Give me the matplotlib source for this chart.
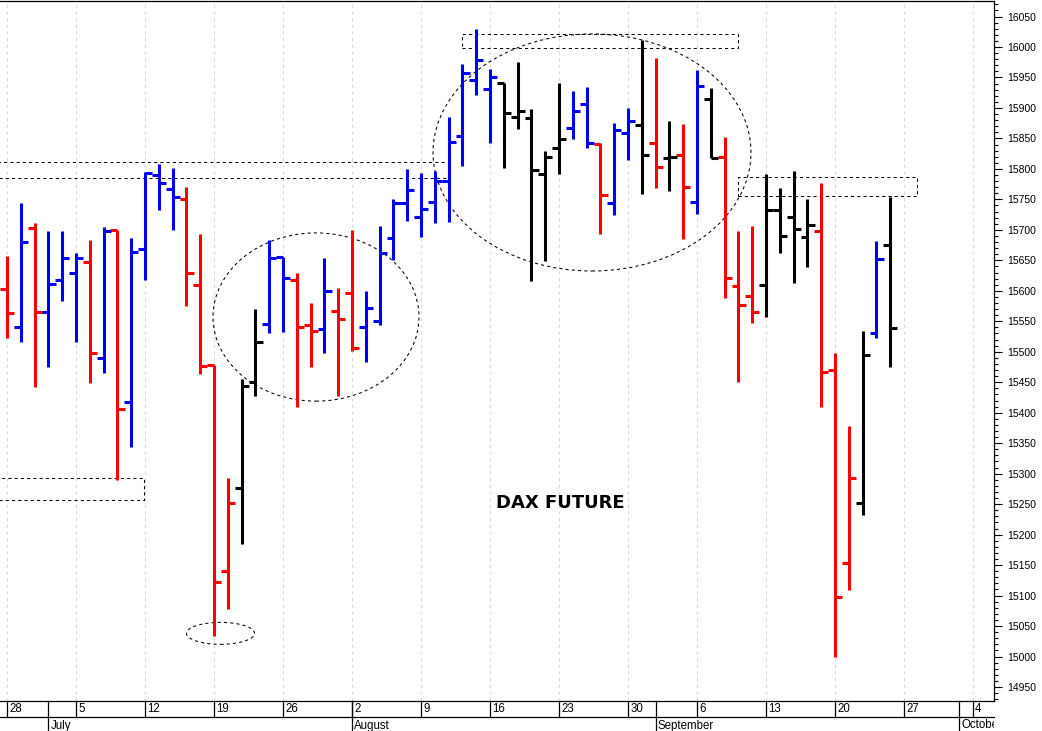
import numpy as np
import pandas as pd
import matplotlib
matplotlib.use("Agg")
import matplotlib.pyplot as plt
from matplotlib.patches import Rectangle, Ellipse
from matplotlib.ticker import MultipleLocator
import matplotlib.transforms as mtransforms

# ---------------- data (DAX future, daily OHLC, trading days from 28 Jun 2021) -------------
start_date = "2021-06-28"
end_axis_date = "2021-10-08"

opens = [15603, 15540, 15703, 15565, 15618, 15629, 15647, 15490, 15700, 15417,
         15669, 15790, 15767, 15751, 15609, 15478, 15140, 15276, 15450, 15545,
         15655, 15618, 15544, 15537, 15567, 15596, 15540, 15550, 15687, 15744,
         15721, 15746, 15780, 15854, 15946, 15931, 15941, 15885, 15883, 15792,
         15834, 15867, 15906, 15841, 15744, 15859, 15872, 15843, 15818, 15823,
         15746, 15915, 15819, 15608, 15591, 15609, 15733, 15721, 15688, 15698,
         15470, 15153, 15252, 15531, 15675]
highs = [15657, 15744, 15711, 15698, 15698, 15662, 15683, 15705, 15700, 15687,
         15795, 15808, 15801, 15770, 15693, 15478, 15293, 15455, 15570, 15683,
         15655, 15629, 15580, 15654, 15605, 15700, 15600, 15706, 15751, 15800,
         15793, 15796, 15885, 15972, 16029, 15964, 15941, 15975, 15898, 15829,
         15941, 15928, 15934, 15843, 15875, 15900, 16011, 15982, 15879, 15874,
         15962, 15933, 15852, 15698, 15706, 15792, 15769, 15796, 15751, 15777,
         15498, 15378, 15534, 15682, 15754]
lows = [15522, 15516, 15442, 15475, 15583, 15516, 15449, 15465, 15290, 15344,
        15618, 15733, 15700, 15575, 15463, 15034, 15078, 15185, 15427, 15531,
        15532, 15409, 15475, 15498, 15427, 15501, 15483, 15544, 15650, 15714,
        15688, 15711, 15713, 15805, 15921, 15842, 15801, 15865, 15616, 15649,
        15792, 15849, 15834, 15693, 15724, 15815, 15759, 15769, 15764, 15685,
        15726, 15818, 15588, 15450, 15547, 15557, 15662, 15613, 15639, 15409,
        14999, 15109, 15232, 15522, 15475]
closes = [15564, 15680, 15565, 15611, 15654, 15654, 15498, 15698, 15406, 15664,
          15793, 15777, 15754, 15629, 15477, 15122, 15252, 15444, 15516, 15654,
          15621, 15540, 15534, 15600, 15554, 15506, 15572, 15662, 15744, 15765,
          15734, 15780, 15844, 15957, 15979, 15951, 15892, 15895, 15798, 15819,
          15849, 15895, 15843, 15757, 15864, 15879, 15823, 15803, 15819, 15770,
          15936, 15818, 15621, 15577, 15565, 15733, 15690, 15701, 15708, 15467,
          15098, 15293, 15495, 15652, 15539]
# bar state: u = blue, d = red, n = black
states = list("duduuududu" "uuuddddnnu" "uddudduuuu" "uuuuuunnnn"
              "nuuduundnd" "undddnnnnd" "ddnun")

price_ticks_major = 50
price_ticks_minor = 10
y_range = (14927, 16075.5)

# annotations: (x0, x1) in trading-day index, (y0, y1) in price
rects = [(-1.0, 31.95, 15785, 15811),
         (-1.0, 9.93, 15257, 15293),
         (32.97, 52.97, 15998, 16021),
         (52.97, 65.94, 15756, 15787)]
# ellipses: (center index, center price, width in days, height in price)
ellipses = [(15.47, 15038, 4.93, 36),
            (22.39, 15557, 14.93, 276),
            (42.39, 15827, 23.04, 389)]
title_text = "DAX FUTURE"
title_pos = (40.07, 15252)

# ---------------- figure ----------------
W, H = 1042, 731
fig = plt.figure(figsize=(W / 100, H / 100), dpi=100)
ax = fig.add_axes([0, 30 / H, 994 / W, 700 / H])

days = pd.bdate_range(start_date, end_axis_date)
n = len(opens)
xs = np.arange(n)
col_map = {"u": "#0000ee", "d": "#ff0000", "n": "#000000"}
cols = [col_map[s] for s in states]

lw = 2.2
ax.vlines(xs, lows, highs, colors=cols, lw=lw, zorder=3)
ax.hlines(opens, xs - 0.5, xs, colors=cols, lw=lw, zorder=3)
ax.hlines(closes, xs, xs + 0.52, colors=cols, lw=lw, zorder=3)

ax.set_xlim(-0.507, 71.52)
ax.set_ylim(*y_range)

# week grid (Mondays)
mondays = [i for i, d in enumerate(days) if d.weekday() == 0]
month_starts = [i for i in range(1, len(days)) if days[i].month != days[i - 1].month]

ax.set_xticks(mondays)
ax.tick_params(axis="x", length=0, labelbottom=False)
ax.grid(axis="x", color="#dadada", linestyle=(0, (3, 3)), lw=0.8, zorder=0)

# y axis on right
ax.yaxis.tick_right()
ax.yaxis.set_major_locator(MultipleLocator(price_ticks_major))
ax.yaxis.set_minor_locator(MultipleLocator(price_ticks_minor))
ax.tick_params(axis="y", which="major", direction="out", length=5.5, width=0.8,
               pad=4, labelsize=7.5, labelfontfamily="Liberation Sans")
ax.tick_params(axis="y", which="minor", direction="out", length=3, width=0.8)
ax.spines["left"].set_visible(False)
for sp in ["right", "bottom", "top"]:
    ax.spines[sp].set_linewidth(0.9)

# date axis rows
xt = ax.get_xaxis_transform()
row1 = -16 / 700
row2 = -31 / 700
ax.plot([0, 1], [row1, row1], transform=ax.transAxes, color="black", lw=0.9, clip_on=False)
clip_rect = Rectangle((0, -1), 1, 2, transform=ax.transAxes, visible=False)
ax.add_patch(clip_rect)
off = mtransforms.offset_copy(xt, fig=fig, x=2.2, y=0, units="dots")
for i in mondays:
    ax.plot([i, i], [0, row1], transform=xt, color="black", lw=0.9, clip_on=False)
    t = ax.text(i, -8 / 700, str(days[i].day), transform=off, ha="left", va="center",
                fontsize=8.3, family="Liberation Sans", clip_on=True)
    t.set_clip_path(clip_rect)
for i in month_starts:
    ax.plot([i, i], [0, row2], transform=xt, color="black", lw=0.9, clip_on=False)
    t = ax.text(i, -24.5 / 700, days[i].strftime("%B"), transform=off, ha="left",
                va="center", fontsize=8.3, family="Liberation Sans", clip_on=True)
    t.set_clip_path(clip_rect)

# annotations
dash = (0, (3, 3))
for x0, x1, y0, y1 in rects:
    ax.add_patch(Rectangle((x0, y0), x1 - x0, y1 - y0, fill=False, ec="black",
                           lw=0.75, ls=dash, zorder=2))
for cx, cy, w, h in ellipses:
    ax.add_patch(Ellipse((cx, cy), w, h, fill=False, ec="black", lw=0.75, ls=dash, zorder=2))

ax.text(title_pos[0], title_pos[1], title_text, ha="center", va="center",
        fontsize=13, fontweight="bold", family="DejaVu Sans")

fig.savefig("out.png", dpi=100)
